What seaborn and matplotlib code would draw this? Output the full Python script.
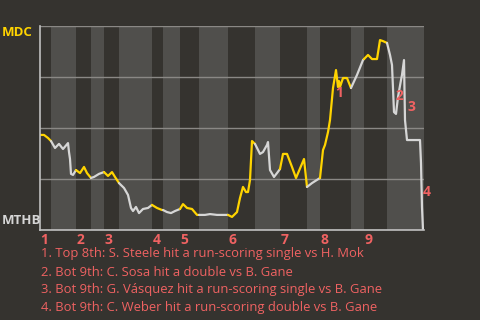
import matplotlib
matplotlib.use("Agg")
import matplotlib.pyplot as plt
import matplotlib.transforms as mtransforms
import seaborn as sns
import pandas as pd

# ---------------- data ----------------
teams = ["MDC", "MTHB"]
# half-inning boundaries along the game timeline (top1, bot1, top2, ...)
half_bounds = [0, 11, 36, 51, 64, 79, 112, 123, 140, 159, 188, 215, 240, 267, 280, 311, 324, 347, 384]
innings = ["1", "2", "3", "4", "5", "6", "7", "8", "9"]

play_x = [0, 4, 8, 11, 15, 19, 23, 28, 29, 30, 31, 33, 36, 40, 44, 47, 51, 54, 59, 64,
          68, 72, 75, 79, 84, 88, 91, 93, 96, 99, 103, 108, 112, 117, 122, 123, 127, 131, 135, 140,
          143, 147, 152, 157, 159, 165, 170, 177, 183, 188, 192, 197, 200, 203, 206, 208, 210, 212, 215,
          220, 223, 227, 228, 230, 234, 237, 240, 243, 247, 252, 256, 264, 267, 272, 280,
          283, 285, 288, 290, 293, 296, 298, 299, 300, 303, 307, 311, 317, 323, 324,
          328, 332, 337, 340, 343, 347, 350, 352, 354, 356, 358, 361, 362, 364, 365, 367, 380, 381, 382, 383]
mdc_wp = [46.6, 46.6, 45.1, 43.6, 40.2, 42.2, 39.7, 42.6, 38.2, 34.8, 27.5, 27.0, 29.4, 27.9, 30.9, 27.9, 25.5, 26.0, 27.5, 28.4,
          26.5, 28.4, 26.0, 23.0, 20.6, 17.2, 10.8, 9.3, 11.3, 8.3, 10.3, 10.8, 12.3, 10.8, 9.8, 9.8, 8.8, 8.3, 9.3, 10.3,
          12.7, 10.8, 10.3, 7.4, 7.4, 7.4, 7.8, 7.4, 7.4, 7.4, 6.4, 8.8, 15.7, 21.1, 18.6, 18.6, 24.5, 43.6, 42.2,
          37.3, 38.2, 41.7, 43.1, 29.4, 26.0, 27.9, 29.9, 37.3, 37.3, 30.9, 25.5, 34.8, 21.1, 23.0, 25.5,
          39.2, 41.7, 48.0, 53.9, 69.6, 78.4, 70.1, 73.0, 70.1, 74.5, 74.5, 69.6, 76.0, 83.3, 83.8,
          85.8, 83.8, 83.8, 93.1, 92.6, 91.7, 85.8, 80.9, 57.8, 56.9, 65.2, 73.5, 76.0, 83.3, 53.9, 44.1, 44.1, 32.8, 11.3, 0.0]

event_labels = ["1", "2", "3", "4"]
event_x = [299, 359, 371, 387]
event_wp = [67.2, 65.7, 60.3, 18.6]
event_notes = [
    "1. Top 8th: S. Steele hit a run-scoring single vs H. Mok",
    "2. Bot 9th: C. Sosa hit a double vs B. Gane",
    "3. Bot 9th: G. Vásquez hit a run-scoring single vs B. Gane",
    "4. Bot 9th: C. Weber hit a run-scoring double vs B. Gane",
]

# ---------------- style ----------------
BG = "#35332f"
BAND = "#504f4c"
YELLOW = "#ffd400"
WHITE = "#d6d6d6"
RED = "#ef6262"
GRID = "#8a8885"
SPINE = "#c0c0c0"

sns.set_theme(style="dark")
plt.rcParams["font.family"] = ["Open Sans", "DejaVu Sans"]

fig = plt.figure(figsize=(4.8, 3.2), dpi=100, facecolor=BG)
ax = fig.add_axes([40 / 480, 1 - 230 / 320, 384 / 480, 204 / 320])
ax.set_facecolor(BG)

# shaded bottom halves
for i in range(1, len(half_bounds) - 1, 2):
    ax.axvspan(half_bounds[i], half_bounds[i + 1], color=BAND, lw=0, zorder=0)

df = pd.DataFrame({"x": play_x, "wp": mdc_wp})
for i in range(len(half_bounds) - 1):
    lo, hi = half_bounds[i], half_bounds[i + 1]
    seg = df[(df.x >= lo) & (df.x <= hi)]
    color = YELLOW if i % 2 == 0 else WHITE
    sns.lineplot(data=seg, x="x", y="wp", ax=ax, color=color, lw=1.6,
                 sort=False, estimator=None, zorder=3)

ax.set_xlim(half_bounds[0], half_bounds[-1])
ax.set_ylim(0, 100)
ax.set_yticks([0, 25, 50, 75, 100])
ax.set_xticks([])
ax.tick_params(left=False, labelleft=False, bottom=False, labelbottom=False)
ax.grid(axis="y", color=GRID, lw=1.0, zorder=1)
ax.grid(axis="x", visible=False)
ax.set_xlabel("")
ax.set_ylabel("")
for s in ["top", "right"]:
    ax.spines[s].set_visible(False)
for s in ["left", "bottom"]:
    ax.spines[s].set_visible(True)
    ax.spines[s].set_color(SPINE)
    ax.spines[s].set_linewidth(1.2)
    ax.spines[s].set_zorder(4)

# team labels
fig.text(2 / 480, 1 - 33 / 320, teams[0], color=YELLOW, fontsize=9.5,
         fontweight="bold", ha="left", va="center")
fig.text(2 / 480, 1 - 221 / 320, teams[1], color=WHITE, fontsize=9.5,
         fontweight="bold", ha="left", va="center")

# inning numbers
trans = mtransforms.blended_transform_factory(ax.transData, fig.transFigure)
for k, lab in enumerate(innings):
    ax.text(half_bounds[2 * k] + 0.5, 1 - 240 / 320, lab, transform=trans,
            color=RED, fontsize=10, fontweight="bold", ha="left", va="center")

# event markers
for lab, ex, ey in zip(event_labels, event_x, event_wp):
    ax.text(ex, ey, lab, color=RED, fontsize=10, fontweight="bold",
            ha="center", va="center", zorder=5)

# event notes
for k, note in enumerate(event_notes):
    fig.text(41 / 480, 1 - (254 + 18 * k) / 320, note, color=RED,
             fontsize=9.35, ha="left", va="center")

fig.savefig("out.png", dpi=100, facecolor=BG)
